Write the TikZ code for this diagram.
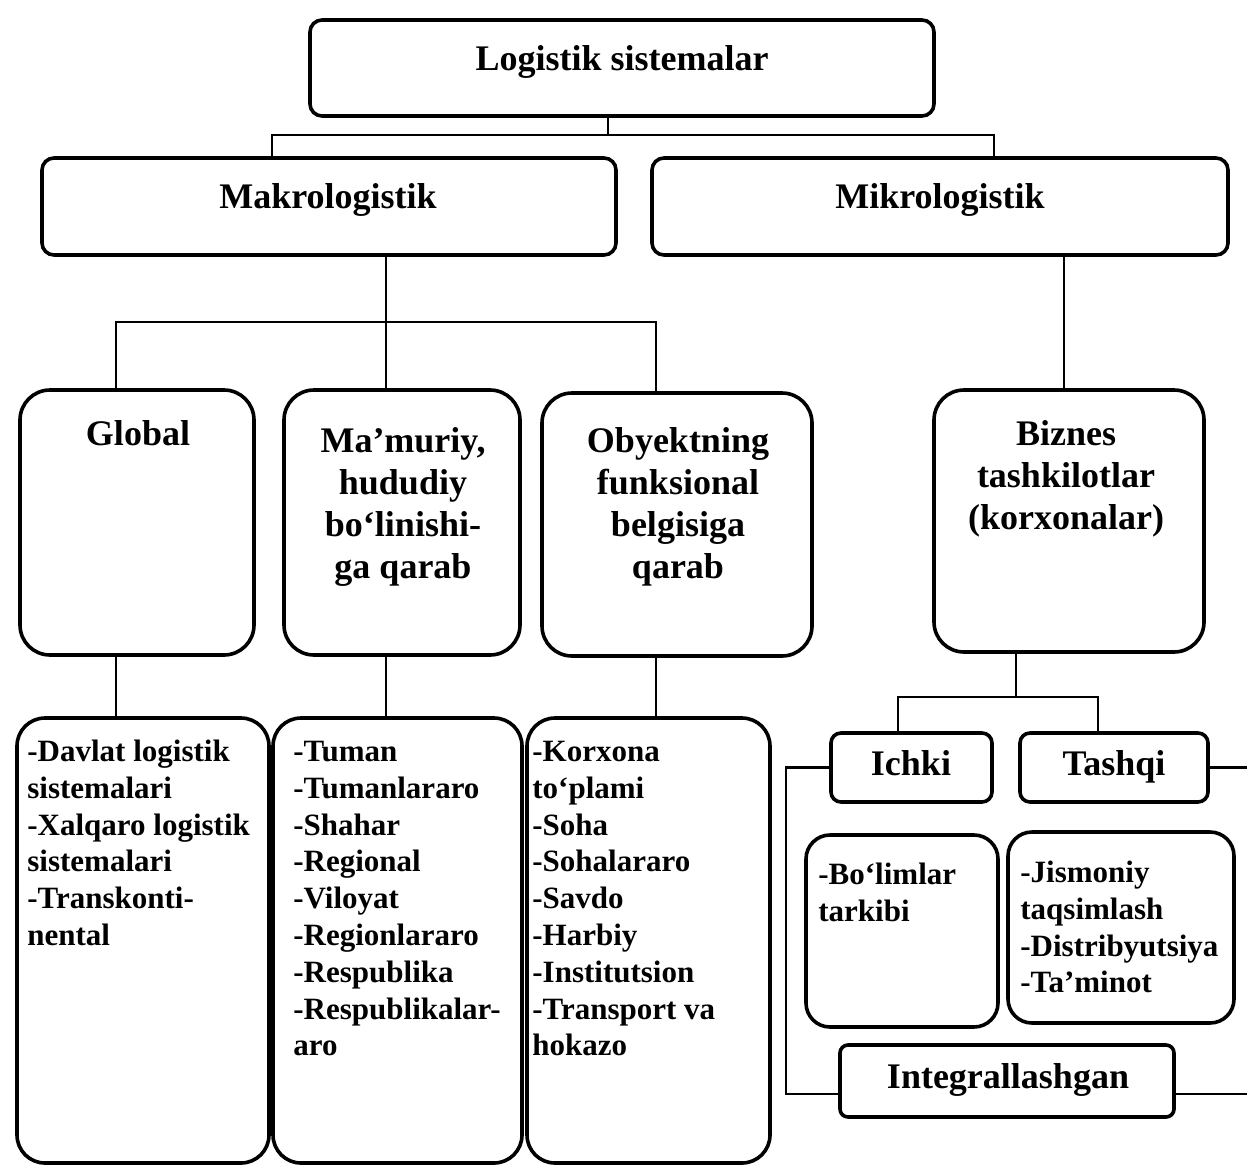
\documentclass[tikz,border=0pt]{standalone}
\usepackage{fontspec}
\setmainfont{Liberation Serif}
\usetikzlibrary{fit,calc}
\newcommand\hdstrut{\rule{0pt}{14pt}}
\newcommand\lsstrut{\rule{0pt}{12pt}}
\begin{document}
\begin{tikzpicture}[x=0.5pt,y=-0.5pt,
  box/.style={draw, line width=1.8pt, inner sep=0pt, rounded corners=#1},
  box/.default=5pt,
  conn/.style={draw, line width=1.2pt},
  head/.style={font=\bfseries\fontsize{18}{21}\selectfont, inner sep=0pt},
  hd/.style={head, align=center, anchor=north},
  lst/.style={font=\bfseries\fontsize{15.5}{18.4}\selectfont, inner sep=0pt, align=left, anchor=north west}
]
\path[fill=white] (0,0) rectangle (1247,1167);
\useasboundingbox (0,0) rectangle (1247,1167);

% top level
\node[box=6pt, fit={(310,20)(934,116)}] (top) {};
\node[head, anchor=base] (topT) at (622,70) {Logistik sistemalar};
\node[box=6pt, fit={(42,158)(616,255)}] (makro) {};
\node[head, anchor=base] (makroT) at (328,208) {Makrologistik};
\node[box=6pt, fit={(652,158)(1228,255)}] (mikro) {};
\node[head, anchor=base] (mikroT) at (940,208) {Mikrologistik};

% middle level
\node[box=15pt, fit={(20,390)(254,655)}] (global) {};
\node[head, anchor=base] (globalT) at (138,445) {Global};
\node[box=15pt, fit={(284,390)(520,655)}] (mamur) {};
\node[hd] (mamurT) at (403,424) {\hdstrut Ma’muriy,\\hududiy\\bo‘linishi-\\ga qarab};
\node[box=15pt, fit={(542,393)(812,656)}] (obyekt) {};
\node[hd] (obyektT) at (678,424) {\hdstrut Obyektning\\funksional\\belgisiga\\qarab};
\node[box=15pt, fit={(934,390)(1204,652)}] (biznes) {};
\node[hd] (biznesT) at (1066,417) {\hdstrut Biznes\\tashkilotlar\\(korxonalar)};

% bottom lists
\node[box=14pt, fit={(17,718)(269,1163)}] (l1) {};
\node[lst] (l1T) at (27,737) {\lsstrut -Davlat logistik\\sistemalari\\-Xalqaro logistik\\sistemalari\\-Transkonti-\\nental};
\node[box=14pt, fit={(273,718)(522,1163)}] (l2) {};
\node[lst] (l2T) at (293,737) {\lsstrut -Tuman\\-Tumanlararo\\-Shahar\\-Regional\\-Viloyat\\-Regionlararo\\-Respublika\\-Respublikalar-\\aro};
\node[box=14pt, fit={(527,718)(770,1163)}] (l3) {};
\node[lst] (l3T) at (532,737) {\lsstrut -Korxona\\to‘plami\\-Soha\\-Sohalararo\\-Savdo\\-Harbiy\\-Institutsion\\-Transport va\\hokazo};

% right lower part
\node[box=5pt, fit={(831,733)(992,802)}] (ichki) {};
\node[head, anchor=base] (ichkiT) at (911,775) {Ichki};
\node[box=5pt, fit={(1020,733)(1208,802)}] (tashqi) {};
\node[head, anchor=base] (tashqiT) at (1114,775) {Tashqi};
\node[box=12pt, fit={(806,835)(998,1027)}] (bolim) {};
\node[lst] (bolimT) at (818,860) {\lsstrut -Bo‘limlar\\tarkibi};
\node[box=12pt, fit={(1008,832)(1234,1023)}] (jism) {};
\node[lst] (jismT) at (1020,858) {\lsstrut -Jismoniy\\taqsimlash\\-Distribyutsiya\\-Ta’minot};
\node[box=4pt, fit={(840,1045)(1174,1117)}] (integ) {};
\node[head, anchor=base] (integT) at (1008,1088) {Integrallashgan};

% connectors
\coordinate (j1) at (608,135);
\coordinate (bL) at (272,135);
\coordinate (bR) at (994,135);
\draw[conn] (top.south -| j1) -- (j1);
\draw[conn] (bL |- makro.north) -- (bL) -- (bR) -- (bR |- mikro.north);

\coordinate (j2) at (386,322);
\coordinate (cL) at (116,322);
\coordinate (cR) at (656,322);
\draw[conn] (makro.south -| j2) -- (mamur.north -| j2);
\draw[conn] (global.north -| cL) -- (cL) -- (cR) -- (obyekt.north -| cR);

\coordinate (j3) at (1064,0);
\draw[conn] (mikro.south -| j3) -- (biznes.north -| j3);

\draw[conn] (global.south -| cL) -- (l1.north -| cL);
\draw[conn] (mamur.south -| j2) -- (l2.north -| j2);
\draw[conn] (obyekt.south -| cR) -- (l3.north -| cR);

\coordinate (j4) at (1016,697);
\coordinate (dL) at (898,697);
\coordinate (dR) at (1098,697);
\draw[conn] (biznes.south -| j4) -- (j4);
\draw[conn] (ichki.north -| dL) -- (dL) -- (dR) -- (tashqi.north -| dR);

\coordinate (eL) at (786,767);
\coordinate (eL2) at (786,1094);
\coordinate (eR) at (1247,0);
\draw[conn] (ichki.west) -- (ichki.west -| eL) -- (eL2) -- (integ.west |- eL2);
\draw[conn] (tashqi.east) -- (tashqi.east -| eR);
\draw[conn] (integ.east |- eL2) -- (eL2 -| eR);
\end{tikzpicture}
\end{document}
